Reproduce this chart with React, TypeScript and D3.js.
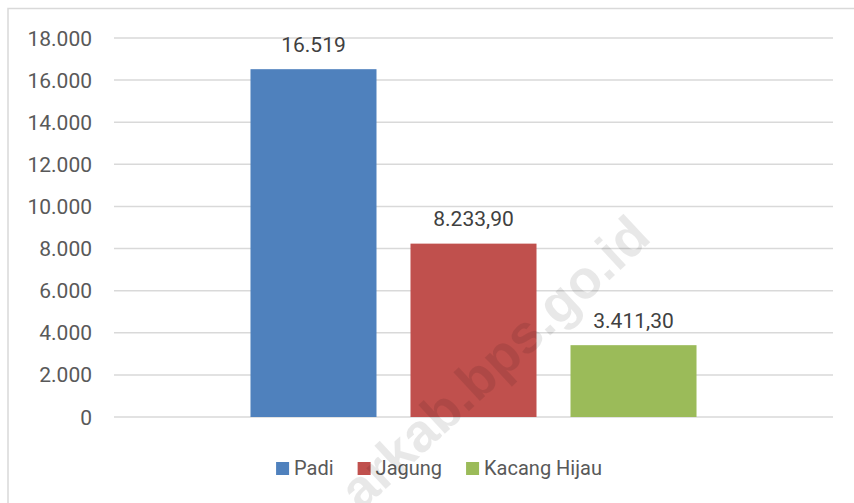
import React, { useEffect, useRef } from "react";
import * as d3 from "d3";

const categories = ["Padi", "Jagung", "Kacang Hijau"];
const values = [16519, 8233.9, 3411.3];
const valueLabels = ["16.519", "8.233,90", "3.411,30"];
const colors = ["#4F81BD", "#C0504D", "#9BBB59"];
const yTicks = [0, 2000, 4000, 6000, 8000, 10000, 12000, 14000, 16000, 18000];
const watermark = "arkab.bps.go.id";

const W = 854;
const H = 503;
const FONT = "Roboto, 'Liberation Sans', sans-serif";

export default function App() {
  const ref = useRef<SVGSVGElement | null>(null);

  useEffect(() => {
    const svg = d3.select(ref.current);
    svg.selectAll("*").remove();

    const loc = d3.formatLocale({ decimal: ",", thousands: ".", grouping: [3], currency: ["", ""] });
    const fmt = loc.format(",");

    const y = d3.scaleLinear().domain([0, 18000]).range([417, 38]);
    const x = d3
      .scaleBand<string>()
      .domain(categories)
      .range([114, 833])
      .paddingInner(0.2125)
      .paddingOuter(0.853);

    svg.append("rect").attr("width", W).attr("height", H).attr("fill", "#fff");
    // chart frame
    svg
      .append("rect")
      .attr("x", 8)
      .attr("y", 8.5)
      .attr("width", 1000)
      .attr("height", 1000)
      .attr("fill", "none")
      .attr("stroke", "#d9d9d9")
      .attr("stroke-width", 1.5);

    // gridlines
    svg
      .append("g")
      .selectAll("line")
      .data(yTicks)
      .join("line")
      .attr("x1", 114)
      .attr("x2", 833)
      .attr("y1", (d) => y(d))
      .attr("y2", (d) => y(d))
      .attr("stroke", "#d9d9d9")
      .attr("stroke-width", 1.5);

    // tick labels
    svg
      .append("g")
      .selectAll("text")
      .data(yTicks)
      .join("text")
      .attr("x", 92)
      .attr("y", (d) => y(d))
      .attr("dy", "0.36em")
      .attr("text-anchor", "end")
      .attr("font-family", FONT)
      .attr("font-size", 21)
      .attr("fill", "#595959")
      .text((d) => fmt(d));

    // bars
    svg
      .append("g")
      .selectAll("rect")
      .data(categories)
      .join("rect")
      .attr("x", (d) => x(d)!)
      .attr("width", x.bandwidth())
      .attr("y", (d, i) => y(values[i]))
      .attr("height", (d, i) => y(0) - y(values[i]))
      .attr("fill", (d, i) => colors[i]);

    // data labels
    svg
      .append("g")
      .selectAll("text")
      .data(categories)
      .join("text")
      .attr("x", (d) => x(d)! + x.bandwidth() / 2)
      .attr("y", (d, i) => y(values[i]) - 17.5)
      .attr("text-anchor", "middle")
      .attr("font-family", FONT)
      .attr("font-size", 21)
      .attr("fill", "#404040")
      .text((d, i) => valueLabels[i]);

    // legend
    const lg = svg.append("g");
    const items = lg
      .selectAll("g")
      .data(categories)
      .join("g");
    items
      .append("rect")
      .attr("width", 13)
      .attr("height", 13)
      .attr("y", 462)
      .attr("fill", (d, i) => colors[i]);
    items
      .append("text")
      .attr("x", 18)
      .attr("y", 475)
      .attr("font-family", FONT)
      .attr("font-size", 20)
      .attr("fill", "#595959")
      .text((d) => d);
    const widths: number[] = [];
    items.each(function () {
      const t = (this as SVGGElement).querySelector("text") as SVGTextElement;
      widths.push(18 + t.getComputedTextLength());
    });
    const gap = 24;
    const total = d3.sum(widths) + gap * (widths.length - 1);
    let cx = 439 - total / 2;
    items.each(function (d, i) {
      d3.select(this).attr("transform", `translate(${cx},0)`);
      cx += widths[i] + gap;
    });

    // watermark
    svg
      .append("text")
      .attr("transform", "translate(494,362) rotate(-43)")
      .attr("text-anchor", "middle")
      .attr("dy", "0.35em")
      .attr("font-family", "'Liberation Sans', Arial, sans-serif")
      .attr("font-weight", "bold")
      .attr("font-size", 54)
      .attr("fill", "#000")
      .attr("fill-opacity", 0.09)
      .text(watermark);
  }, []);

  return (
    <svg
      ref={ref}
      width={W}
      height={H}
      style={{ position: "absolute", left: 0, top: 0, display: "block" }}
    />
  );
}
